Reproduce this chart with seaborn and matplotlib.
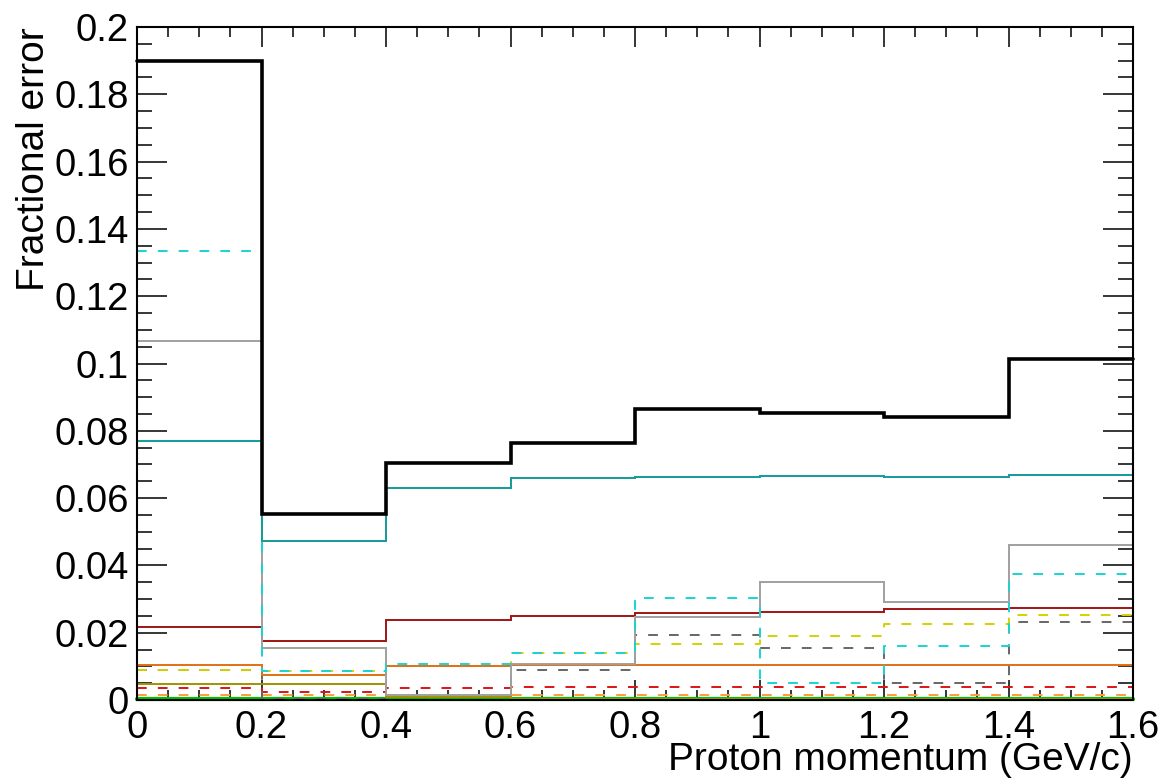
import numpy as np
import pandas as pd
import matplotlib
matplotlib.use("Agg")
import matplotlib.pyplot as plt
from matplotlib.ticker import MultipleLocator, FuncFormatter
import seaborn as sns

# ---- data ----
bin_edges = [0.0, 0.2, 0.4, 0.6, 0.8, 1.0, 1.2, 1.4, 1.6]

total        = [0.1900, 0.0553, 0.0704, 0.0764, 0.0866, 0.0853, 0.0841, 0.1013]
teal_solid   = [0.0770, 0.0473, 0.0630, 0.0660, 0.0663, 0.0666, 0.0663, 0.0669]
cyan_dash    = [0.1334, 0.0087, 0.0108, 0.0140, 0.0303, 0.0051, 0.0160, 0.0375]
gray_solid   = [0.1067, 0.0155, 0.0015, 0.0108, 0.0246, 0.0350, 0.0291, 0.0462]
darkred      = [0.0218, 0.0176, 0.0238, 0.0250, 0.0258, 0.0261, 0.0270, 0.0274]
orange_solid = [0.0104, 0.0075, 0.0101, 0.0103, 0.0104, 0.0104, 0.0104, 0.0104]
olive_solid  = [0.0048, 0.0048, 0.0009, 0.0003, 0.0003, 0.0003, 0.0003, 0.0003]
yellow_dash  = [0.0089, 0.0087, 0.0101, 0.0141, 0.0166, 0.0191, 0.0225, 0.0252]
dgray_dash   = [0.0089, 0.0003, 0.0009, 0.0089, 0.0193, 0.0156, 0.0050, 0.0233]
red_dash     = [0.0035, 0.0025, 0.0037, 0.0039, 0.0039, 0.0039, 0.0040, 0.0040]
lorange_dash = [0.0015, 0.0015, 0.0015, 0.0015, 0.0015, 0.0015, 0.0015, 0.0015]
green_solid  = [0.0002, 0.0002, 0.0002, 0.0002, 0.0002, 0.0002, 0.0002, 0.0002]

x_ticks = [0, 0.2, 0.4, 0.6, 0.8, 1.0, 1.2, 1.4, 1.6]
y_ticks = [0, 0.02, 0.04, 0.06, 0.08, 0.1, 0.12, 0.14, 0.16, 0.18, 0.2]

# (values, color, linewidth, dashed)
series = [
    (green_solid,  "#00c000", 3.0, False),
    (lorange_dash, "#ff9a40", 1.4, True),
    (red_dash,     "#dd1414", 1.4, True),
    (dgray_dash,   "#666666", 1.4, True),
    (yellow_dash,  "#d2d200", 1.4, True),
    (olive_solid,  "#9c9600", 1.4, False),
    (orange_solid, "#e07018", 1.4, False),
    (darkred,      "#a01414", 1.4, False),
    (gray_solid,   "#a0a0a0", 1.4, False),
    (cyan_dash,    "#18d4d4", 1.4, True),
    (teal_solid,   "#139a9a", 1.4, False),
    (total,        "#000000", 2.6, False),
]

sns.set_style("ticks")
plt.rcParams["font.family"] = ["Liberation Sans", "DejaVu Sans"]
plt.rcParams["lines.scale_dashes"] = False
plt.rcParams["text.color"] = "black"
plt.rcParams["axes.labelcolor"] = "black"

fig = plt.figure(figsize=(11.65, 7.83), dpi=100)
ax = fig.add_axes([137 / 1165, 1 - 700 / 783, (1133 - 137) / 1165, (700 - 27) / 783])

for vals, col, lw, dashed in series:
    df = pd.DataFrame({"x": bin_edges, "y": list(vals) + [vals[-1]]})
    sns.lineplot(data=df, x="x", y="y", ax=ax, color=col, linewidth=lw,
                 drawstyle="steps-post")
    ln = ax.lines[-1]
    if dashed:
        ln.set_dashes((7, 8))
    ln.set_clip_on(False)
    ln.set_solid_joinstyle("miter")

ax.set_xlim(0, 1.6)
ax.set_ylim(0, 0.2)
ax.set_xticks(x_ticks)
ax.set_yticks(y_ticks)
ax.xaxis.set_minor_locator(MultipleLocator(0.05))
ax.yaxis.set_minor_locator(MultipleLocator(0.005))
fmt = FuncFormatter(lambda v, p: ("%g" % round(v, 4)))
ax.xaxis.set_major_formatter(fmt)
ax.yaxis.set_major_formatter(fmt)

for s in ax.spines.values():
    s.set_linewidth(1.5)
    s.set_color("black")
    s.set_visible(True)

ax.tick_params(which="both", direction="in", top=True, right=True,
               labelsize=27.5, width=1.1, color="black", labelcolor="black")
ax.tick_params(axis="y", which="major", length=21.5, pad=6)
ax.tick_params(axis="y", which="minor", length=10.8)
ax.tick_params(axis="x", which="major", length=14.4, pad=7)
ax.tick_params(axis="x", which="minor", length=7.2)

ax.set_xlabel("Proton momentum (GeV/c)", fontsize=28, loc="right", color="black")
ax.set_ylabel("Fractional error", fontsize=28, loc="top", color="black")
ax.xaxis.set_label_coords(1.0, -0.063)
ax.yaxis.set_label_coords(-0.085, 1.0)
ax.set_facecolor("white")
fig.patch.set_facecolor("white")

fig.savefig("out.png", dpi=100)
